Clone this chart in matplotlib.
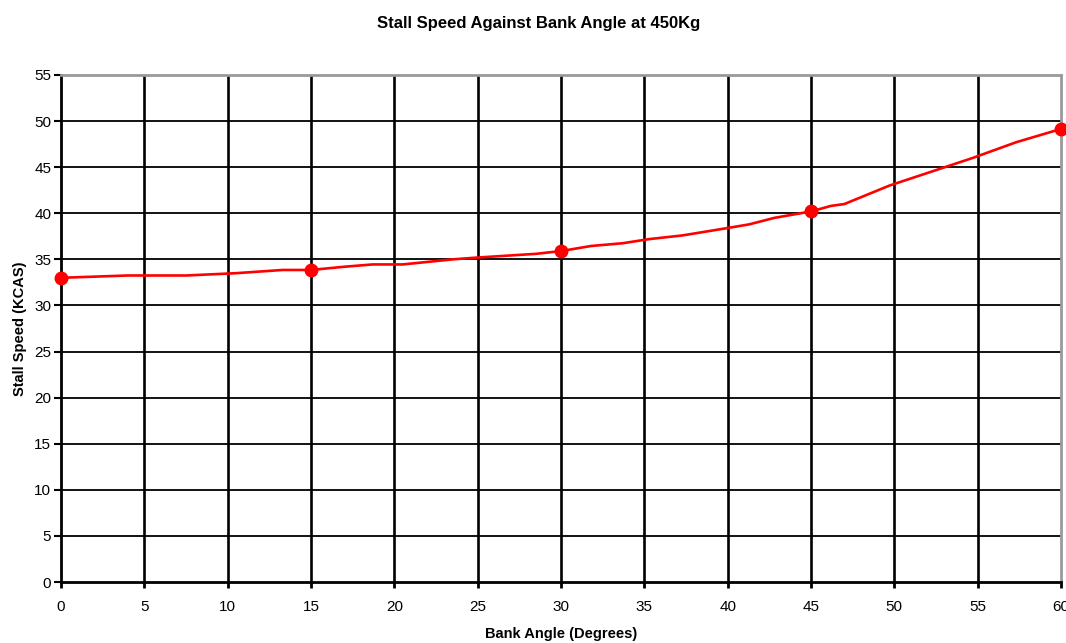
import numpy as np
import matplotlib.pyplot as plt

plt.rcParams['font.family'] = ['Liberation Sans', 'DejaVu Sans']

# bank angle (deg) vs stall speed (KCAS) at 450 kg
angle = [0, 4, 7.5, 10.5, 13.3, 15, 17, 18.7, 20.5, 23.5, 25, 28.5, 30,
         31.8, 33.7, 35.3, 37.3, 40, 41.3, 42.8, 45, 46.2, 47, 49.7, 52.2,
         54.7, 57.3, 60]
vs = [33.0, 33.25, 33.25, 33.5, 33.85, 33.85, 34.2, 34.45, 34.45, 35.0,
      35.2, 35.6, 35.9, 36.45, 36.75, 37.2, 37.6, 38.4, 38.8, 39.5, 40.2,
      40.8, 41.0, 43.0, 44.5, 46.0, 47.7, 49.15]
marked = [0, 15, 30, 45, 60]

xticks = np.arange(0, 61, 5)
yticks = np.arange(0, 56, 5)

fig = plt.figure(figsize=(10.66, 6.43), dpi=100)
ax = fig.add_axes([61/1066, 1 - 582/643, 1000/1066, 507/643])

idx = [angle.index(a) for a in marked]
ax.plot(angle, vs, '-', color='#ff0000', lw=1.9, marker='o', ms=9,
        markevery=idx, clip_on=False, zorder=5)

ax.set_xlim(0, 60)
ax.set_ylim(0, 55)
ax.set_xticks(xticks)
ax.set_yticks(yticks)

for v in xticks[1:-1]:
    ax.axvline(v, color='black', lw=1.9, zorder=1)
for v in yticks[1:-1]:
    ax.axhline(v, color='black', lw=1.3, zorder=1)

for s in ['left', 'bottom']:
    ax.spines[s].set_color('black')
    ax.spines[s].set_linewidth(2)
for s in ['top', 'right']:
    ax.spines[s].set_color('#999999')
    ax.spines[s].set_linewidth(2)

ax.tick_params(axis='x', length=4, width=2, pad=9, labelsize=11)
ax.tick_params(axis='y', length=5, width=1.5, pad=2, labelsize=11)

ax.set_xlabel('Bank Angle (Degrees)', fontweight='bold', fontsize=10.5, labelpad=9)
ax.set_ylabel('Stall Speed (KCAS)', fontweight='bold', fontsize=10.5, labelpad=5)
fig.suptitle('Stall Speed Against Bank Angle at 450Kg', x=0.505, y=0.975,
             fontweight='bold', fontsize=12)

plt.savefig('out.png', dpi=100)
